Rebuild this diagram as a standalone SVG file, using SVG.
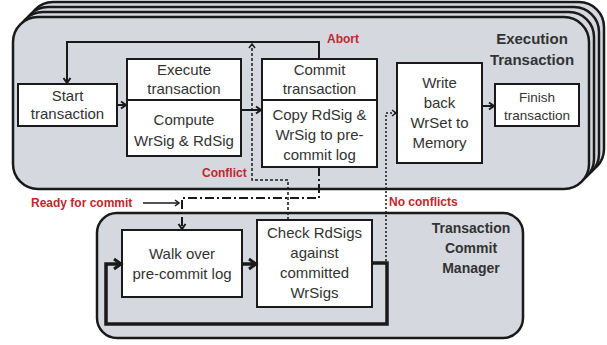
<svg xmlns="http://www.w3.org/2000/svg" width="607" height="345" viewBox="0 0 607 345">
<style>
.cont{fill:#d5d8df;stroke:#1a1a1a;stroke-width:2.5}
.box{fill:#fff;stroke:#1a1a1a;stroke-width:2}
.t{font-family:"Liberation Sans",Arial,sans-serif;font-size:15px;fill:#333;text-anchor:middle}
.ts{font-size:13.5px}
.h{font-family:"Liberation Sans",Arial,sans-serif;font-weight:bold;fill:#333;text-anchor:middle}
.lbl{font-family:"Liberation Sans",Arial,sans-serif;font-weight:bold;font-size:12px;fill:#c1272d}
.ln{fill:none;stroke:#1a1a1a;stroke-width:2}
.thick{fill:none;stroke:#1a1a1a;stroke-width:3.5}
.dash{fill:none;stroke:#1a1a1a;stroke-width:1.5;stroke-dasharray:3 2}
.dot{fill:none;stroke:#1a1a1a;stroke-width:1.5;stroke-dasharray:2 2}
.dd{fill:none;stroke:#1a1a1a;stroke-width:2;stroke-dasharray:9 3 2 3}
</style>
<defs>
<marker id="ah" markerUnits="userSpaceOnUse" markerWidth="10" markerHeight="10" refX="7" refY="5" orient="auto">
<path d="M2,1.5 L7,5 L2,8.5" fill="none" stroke="#1a1a1a" stroke-width="2"/>
</marker>
<marker id="ahs" markerUnits="userSpaceOnUse" markerWidth="10" markerHeight="10" refX="7" refY="5" orient="auto">
<path d="M3,2 L7,5 L3,8" fill="none" stroke="#1a1a1a" stroke-width="1.5"/>
</marker>
<marker id="ahb" markerUnits="userSpaceOnUse" markerWidth="14" markerHeight="14" refX="10" refY="7" orient="auto">
<path d="M3,2 L10,7 L3,12" fill="none" stroke="#1a1a1a" stroke-width="3"/>
</marker>
</defs>

<g id="execution-container">
<rect class="cont" x="28" y="2" width="576" height="172" rx="25"/>
<rect class="cont" x="23" y="7" width="576" height="172" rx="25"/>
<rect class="cont" x="18" y="12" width="576" height="172" rx="25"/>
<rect class="cont" x="13" y="17" width="576" height="172" rx="25"/>
<text class="h" x="532" y="44" font-size="15">Execution</text>
<text class="h" x="532" y="65" font-size="15">Transaction</text>
</g>

<g id="commit-manager">
<rect class="cont" x="97" y="213" width="426" height="125" rx="20"/>
<text class="h" x="471" y="233" font-size="14">Transaction</text>
<text class="h" x="471" y="253" font-size="14">Commit</text>
<text class="h" x="471" y="273" font-size="14">Manager</text>
</g>

<g id="start">
<rect class="box" x="18" y="84" width="99" height="42"/>
<text class="t" x="67.5" y="101">Start</text>
<text class="t" x="67.5" y="119">transaction</text>
</g>

<g id="execute">
<rect class="box" x="127" y="59" width="114" height="97"/>
<line x1="127" y1="100" x2="241" y2="100" stroke="#1a1a1a" stroke-width="2"/>
<text class="t" x="184" y="75">Execute</text>
<text class="t" x="184" y="94">transaction</text>
<text class="t" x="184" y="125">Compute</text>
<text class="t" x="184" y="146">WrSig &amp; RdSig</text>
</g>

<g id="commit">
<rect class="box" x="262" y="59" width="115" height="108"/>
<line x1="262" y1="100" x2="377" y2="100" stroke="#1a1a1a" stroke-width="2"/>
<text class="t" x="319.5" y="75">Commit</text>
<text class="t" x="319.5" y="94">transaction</text>
<text class="t" x="319.5" y="120">Copy RdSig &amp;</text>
<text class="t" x="319.5" y="140">WrSig to pre-</text>
<text class="t" x="319.5" y="160">commit log</text>
</g>

<g id="writeback">
<rect class="box" x="397" y="63" width="85" height="100"/>
<text class="t" x="439.5" y="88">Write</text>
<text class="t" x="439.5" y="108">back</text>
<text class="t" x="439.5" y="128">WrSet to</text>
<text class="t" x="439.5" y="148">Memory</text>
</g>

<g id="finish">
<rect class="box" x="495" y="84" width="84" height="42"/>
<text class="t ts" x="537" y="102">Finish</text>
<text class="t ts" x="537" y="120">transaction</text>
</g>

<g id="walk">
<rect class="box" x="122" y="230" width="120" height="67"/>
<text class="t" x="182" y="259">Walk over</text>
<text class="t" x="182" y="279">pre-commit log</text>
</g>

<g id="check">
<rect class="box" x="257" y="220" width="115" height="87"/>
<text class="t" x="314.5" y="238">Check RdSigs</text>
<text class="t" x="314.5" y="258">against</text>
<text class="t" x="314.5" y="278">committed</text>
<text class="t" x="314.5" y="298">WrSigs</text>
</g>

<g id="connectors">
<line class="ln" x1="117" y1="105" x2="126" y2="105" marker-end="url(#ah)"/>
<line class="ln" x1="241" y1="110" x2="261" y2="110" marker-end="url(#ah)"/>
<line class="ln" x1="482" y1="106" x2="494" y2="106" marker-end="url(#ah)"/>
<polyline class="ln" points="319,59 319,42 67,42 67,83" marker-end="url(#ah)"/>
<polyline class="dash" points="288,220 288,180 252,180 252,44" marker-end="url(#ahs)"/>
<polyline class="dd" points="319,167 319,198 182,198 182,229" marker-end="url(#ah)"/>
<line x1="143" y1="203" x2="179" y2="203" stroke="#1a1a1a" stroke-width="1.3" marker-end="url(#ahs)"/>
<line class="thick" x1="242" y1="264" x2="256" y2="264" marker-end="url(#ahb)"/>
<polyline class="thick" points="372,263 387,263 387,324 106,324 106,264 121,264" marker-end="url(#ahb)"/>
<polyline class="dot" points="386,261 386,113 396,113" marker-end="url(#ahs)"/>
</g>

<g id="labels">
<text class="lbl" x="327" y="43" font-size="11.5">Abort</text>
<text class="lbl" x="202" y="177" font-size="11.5">Conflict</text>
<text class="lbl" x="31" y="207" font-size="12.5">Ready for commit</text>
<text class="lbl" x="389" y="206">No conflicts</text>
</g>
</svg>
